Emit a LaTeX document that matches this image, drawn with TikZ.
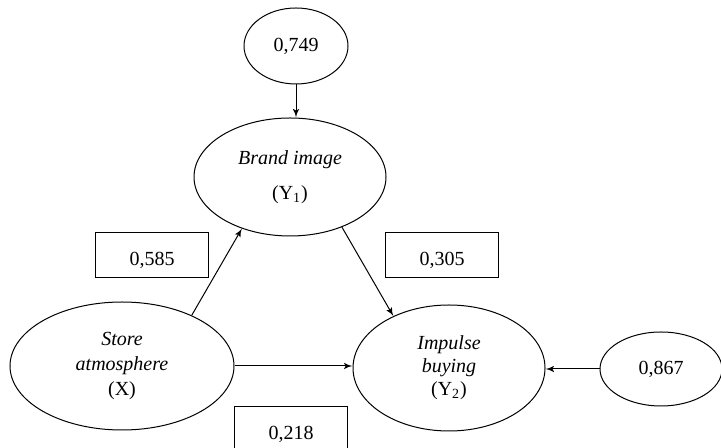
\documentclass[tikz,border=0pt]{standalone}
\usepackage{fontspec}
\setmainfont{Liberation Serif}
\usetikzlibrary{shapes,arrows}
\tikzstyle{cloud} = [draw, ellipse, inner sep=0pt, align=center]
\tikzstyle{block} = [rectangle, draw, text centered, text height=1.3em, text depth=0.25em, minimum width=56.5pt, minimum height=22.5pt]
\tikzstyle{line} = [draw, -latex']

\begin{document}
\begin{tikzpicture}[x=0.5pt,y=0.5pt,line width=0.5pt,font=\fontsize{10}{12.5}\selectfont]
  \useasboundingbox (0,0) rectangle (721,448);
      \node [cloud, minimum width=52pt, minimum height=38pt] (e749) at (296,402) {0,749};
      \node [cloud, minimum width=96pt, minimum height=59pt] (brand) at (290,271) {\textit{Brand image}\\[5pt](Y\textsubscript{1})};
      \node [cloud, minimum width=112pt, minimum height=64pt] (store) at (122,82) {\textit{Store}\\\textit{atmosphere}\\(X)};
      \node [cloud, minimum width=96pt, minimum height=63pt] (impulse) at (449,80) {\textit{Impulse}\\[-1pt]\textit{buying}\\[-1pt](Y\textsubscript{2})};
      \node [cloud, minimum width=61pt, minimum height=37pt] (e867) at (661,79) {0,867};

      % path coefficients
      \node [block] (b585) at (152,193) {0,585};
      \node [block] (b305) at (442,193) {0,305};
      \node [block] (b218) at (291,19) {0,218};

      \path [line] (e749.south) -- (e749.south |- brand.north);
      \path [line] (store.36) -- (brand.227);
      \path [line] (brand.316) -- (impulse.137);
      \path [line] (store.east) -- (store.east -| impulse.west);
      \path [line] (e867.west) -- (e867.west -| impulse.east);

    \end{tikzpicture}
\end{document}
